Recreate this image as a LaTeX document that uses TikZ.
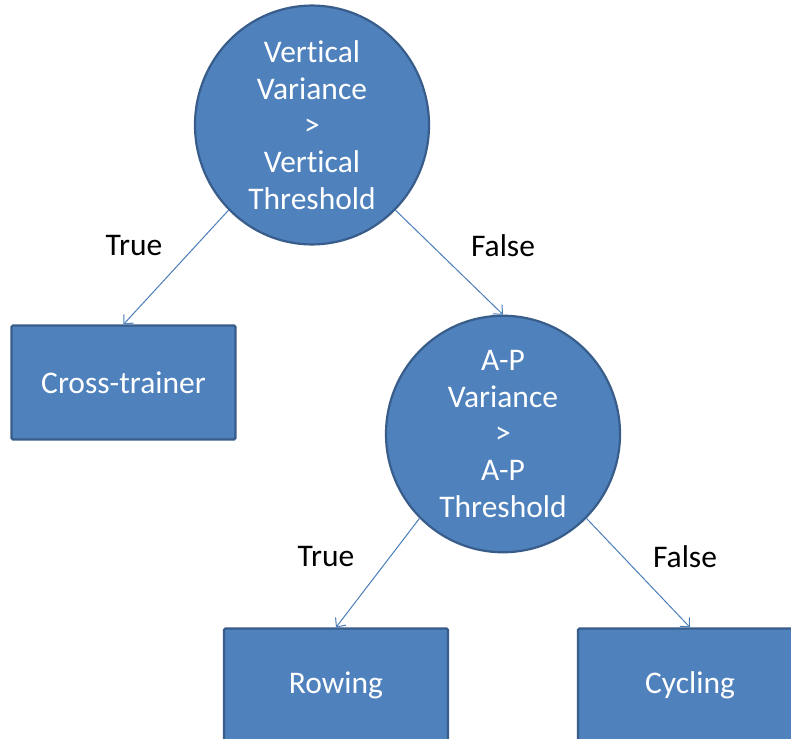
\documentclass[tikz,border=0pt]{standalone}
\usepackage{fontspec}
\setmainfont[Ligatures={NoCommon}]{Carlito}
\usetikzlibrary{shapes.geometric,arrows.meta}
\definecolor{boxfill}{HTML}{4F81BD}
\definecolor{boxline}{HTML}{385D8A}
\definecolor{linkcol}{HTML}{4A7EBB}
\begin{document}
\begin{tikzpicture}[x=1pt,y=-1pt,
  every node/.style={font=\fontsize{31.5}{36.7}\selectfont},
  testnode/.style={ellipse, draw=boxline, line width=2.2pt, fill=boxfill,
    minimum width=234pt, minimum height=224pt, inner sep=0pt,
    text=white, align=center},
  leafnode/.style={rectangle, rounded corners=1.5pt, draw=boxline, line width=2.2pt,
    fill=boxfill, minimum width=224pt, minimum height=114pt, inner sep=0pt,
    text=white},
  link/.style={draw=linkcol, line width=1pt,
    -{Straight Barb[length=7pt,width=13pt,line width=1pt]}},
  edgelabel/.style={text=black}]
\useasboundingbox (0,0) rectangle (791,738);
\clip (0,0) rectangle (791,738);
\fill[white] (0,0) rectangle (791,738);

% decision nodes
\node[testnode] (vert) at (312,125) {Vertical\\Variance\\>\\Vertical\\Threshold};
\node[testnode] (ap) at (503,434) {A-P\\Variance\\>\\A-P\\Threshold};

% leaves
\node[leafnode] (cross) at (123.5,382.5) {Cross-trainer};
\node[leafnode] (row) at (336,685.5) {Rowing};
\node[leafnode] (cyc) at (690,685.5) {Cycling};

% branches
\draw[link] (vert.south west) -- (cross.north);
\draw[link] (vert.south east) -- (ap.north);
\draw[link] (ap.south west) -- (row.north);
\draw[link] (ap.south east) -- (cyc.north);

% branch labels
\node[edgelabel] (t1) at (134,246) {True};
\node[edgelabel] (f1) at (503,246) {False};
\node[edgelabel] (t2) at (326,557) {True};
\node[edgelabel] (f2) at (685,557) {False};
\end{tikzpicture}
\end{document}
